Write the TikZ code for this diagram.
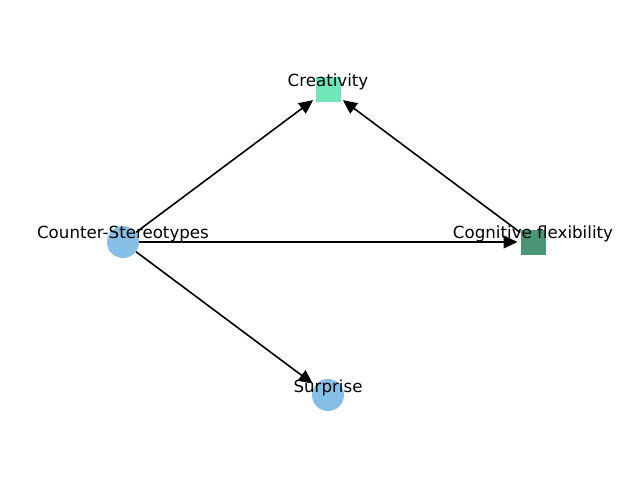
\documentclass[tikz,border=0pt]{standalone}
\usepackage{fontspec}
\setmainfont{DejaVu Sans}
\usetikzlibrary{arrows.meta}
\definecolor{cBlue}{HTML}{85BFE8}
\definecolor{cMint}{HTML}{6FE6B9}
\definecolor{cSage}{HTML}{4A9576}

\begin{document}
\begin{tikzpicture}[x=0.75pt,y=-0.75pt,
      dot/.style={circle,fill=cBlue,minimum size=24pt,inner sep=0pt},
      sq/.style={rectangle,minimum size=18.75pt,inner sep=0pt},
      lab/.style={anchor=base,font=\fontsize{12.5}{15}\selectfont,inner sep=0pt},
      edge/.style={-{Triangle[length=10.5pt,width=9.5pt]},line width=1.2pt,shorten >=2pt}]
    \useasboundingbox[fill=white] (0,0) rectangle (640,480);
    \node[dot] (cs) at (123,242) {};
    \node[sq,fill=cMint] (cr) at (328,89) {};
    \node[sq,fill=cSage] (cf) at (533,242) {};
    \node[dot] (su) at (328,395) {};
    \draw[edge] (cs) -- (cr);
    \draw[edge] (cs) -- (cf);
    \draw[edge] (cs) -- (su);
    \draw[edge] (cf) -- (cr);
    \node[lab] at (123,238) {Counter-Stereotypes};
    \node[lab] at (328,86) {Creativity};
    \node[lab] at (533,238) {Cognitive flexibility};
    \node[lab] at (328,392) {Surprise};
  \end{tikzpicture}
\end{document}
